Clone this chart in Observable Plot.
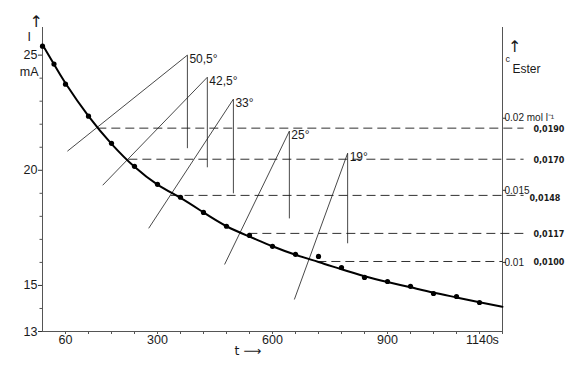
<!DOCTYPE html>
<html><head><meta charset="utf-8">
<script src="https://cdn.jsdelivr.net/npm/d3@7"></script>
<script src="https://cdn.jsdelivr.net/npm/@observablehq/plot@0.6"></script>
<style>
body{margin:0;background:#fff;}
svg{display:block;}
</style></head><body><div id="chart"></div>
<script>
// measured current I (mA) vs time t (s)
const dotT = [0,30,60,120,180,240,300,360,420,480,540,600,660,720,780,840,900,960,1020,1080,1140];
const dotI = [25.39,24.61,23.74,22.35,21.17,20.17,19.39,18.83,18.17,17.57,17.17,16.70,16.35,16.26,15.78,15.35,15.17,14.96,14.65,14.52,14.26];
// fitted curve
const curveT = [0,30,60,120,180,240,300,360,420,480,540,600,660,720,780,840,900,960,1020,1080,1140,1200];
const curveI = [25.45,24.6,23.78,22.35,21.15,20.15,19.38,18.8,18.17,17.57,17.12,16.7,16.33,16.02,15.7,15.4,15.15,14.92,14.69,14.48,14.27,14.07];
// temperature construction lines
const angleLabels = ["50,5°","42,5°","33°","25°","19°"];
const lineStartT = [65,157,277,475,657];
const lineStartI = [20.83,19.35,17.48,15.91,14.39];
const apexT = [378,430,498,644,796];
const apexI = [25.0,24.04,23.09,21.70,20.74];
const dropI = [20.96,20.13,19.0,17.91,16.83];
// dashed read-off lines to the concentration axis
const dashStartT = [143,224,334,537,717];
const dashEndT = [1255,1255,1255,1255,1200];
const dashI = [21.83,20.48,18.91,17.26,16.04];
const dashLabels = ["0,0190","0,0170","0,0148","0,0117","0,0100"];
// axes
const xMinorTicks = [60,120,180,240,300,360,420,480,540,600,660,720,780,840,900,960,1020,1080,1140,1200];
const xTicks = [60,300,600,900,1140];
const xTickLabels = ["60","300","600","900","1140"];
const yMinorTicks = [14,16,17,18,19,21,22,23,24];
const yTicks = [13,15,20,25];
const cTicks = [0.01,0.015,0.02];
const cTickLabels = ["0.01","0.015","0.02 mol l\u207B\u00B9"];
// calibration of the right-hand concentration axis against the current axis
const cCalibC = [0.01,0.02];
const cCalibI = [16.0,22.26];
const cToI = d3.scaleLinear().domain(cCalibC).range(cCalibI);

const dots = dotT.map((t,i)=>({t, I: dotI[i]}));
const curve = curveT.map((t,i)=>({t, I: curveI[i]}));
const cons = angleLabels.map((label,i)=>({label, t0: lineStartT[i], I0: lineStartI[i], ta: apexT[i], Ia: apexI[i], Id: dropI[i]}));
const dashes = dashLabels.map((label,i)=>({label, t0: dashStartT[i], t1: dashEndT[i], I: dashI[i]}));
const cTickData = cTicks.map((c,i)=>({I: cToI(c), label: cTickLabels[i]}));

const font = "'Liberation Sans', Arial, Helvetica, sans-serif";
const ink = "#1a1a1a";
const arrowFont = "'DejaVu Sans', sans-serif";

const chart = Plot.plot({
  width: 568, height: 379,
  marginLeft: 42, marginRight: 66, marginTop: 27, marginBottom: 48,
  x: {domain: [0,1200], axis: null},
  y: {domain: [13,26.2], axis: null},
  style: {fontFamily: font, background: "#fff", color: ink, overflow: "visible"},
  marks: [
    Plot.frame({anchor: "left", stroke: "#555", strokeWidth: 1}),
    Plot.frame({anchor: "right", stroke: "#555", strokeWidth: 1}),
    Plot.frame({anchor: "bottom", stroke: "#555", strokeWidth: 1}),
    // left axis
    Plot.axisY({ticks: yMinorTicks, tickSize: 2.5, tickFormat: () => "", label: null, stroke: "#555"}),
    Plot.axisY({ticks: yTicks, tickSize: 4, tickPadding: 1, fontSize: 12.5, label: null, stroke: "#333", fill: ink}),
    // bottom axis
    Plot.axisX({ticks: xMinorTicks, tickSize: 3, tickFormat: () => "", label: null, stroke: "#555"}),
    Plot.text(xTicks, {x: d => d, text: (d,i) => xTickLabels[i], frameAnchor: "bottom", dy: 12, fontSize: 12.5, fill: ink}),
    Plot.text([1140], {x: d => d, text: () => "s", frameAnchor: "bottom", dy: 12, dx: 13, textAnchor: "start", fontSize: 12.5, fill: ink}),
    // right axis (concentration)
    Plot.axisY({anchor: "right", ticks: cTickData.map(d => d.I), tickSize: 3, tickFormat: () => "", label: null, stroke: "#333"}),
    Plot.text(cTickData, {y: "I", text: "label", frameAnchor: "right", dx: 2, textAnchor: "start", fontSize: 10, fill: ink}),
    // dashed lines
    Plot.link(dashes, {x1: "t0", x2: "t1", y1: "I", y2: "I", stroke: ink, strokeWidth: 0.9, strokeDasharray: "9,5"}),
    Plot.text(dashes.filter(d => d.label !== "0,0148"), {y: "I", text: "label", frameAnchor: "right", dx: 31, dy: 1, textAnchor: "start", fontSize: 8, fontWeight: 600, fontFamily: "'DejaVu Sans', sans-serif", fill: ink}),
    Plot.text(dashes.filter(d => d.label === "0,0148"), {y: "I", text: "label", frameAnchor: "right", dx: 27, dy: 3, textAnchor: "start", fontSize: 8, fontWeight: 600, fontFamily: "'DejaVu Sans', sans-serif", fill: ink}),
    // construction lines
    Plot.link(cons, {x1: "t0", y1: "I0", x2: "ta", y2: "Ia", stroke: ink, strokeWidth: 0.8}),
    Plot.link(cons, {x1: "ta", y1: "Ia", x2: "ta", y2: "Id", stroke: ink, strokeWidth: 0.8}),
    Plot.text(cons, {x: "ta", y: "Ia", text: "label", dx: 2, dy: 4, textAnchor: "start", fontSize: 12, fill: ink}),
    // curve and points
    Plot.line(curve, {x: "t", y: "I", curve: "natural", stroke: "#000", strokeWidth: 2}),
    Plot.dot(dots, {x: "t", y: "I", r: 2.6, fill: "#000"}),
    // axis titles
    Plot.text(["\u2191"], {frameAnchor: "top-left", dx: -13, dy: -12, fontSize: 16, fontFamily: arrowFont, fill: ink}),
    Plot.text(["I"], {frameAnchor: "top-left", dx: -15, dy: 5, fontSize: 12.5, fill: ink}),
    Plot.text(["mA"], {frameAnchor: "top-left", dx: -4, dy: 40, textAnchor: "end", fontSize: 12.5, fill: ink}),
    Plot.text(["\u2191"], {frameAnchor: "top-right", dx: 19, dy: 13, fontSize: 16, fontFamily: arrowFont, fill: ink}),
    Plot.text(["c"], {frameAnchor: "top-right", dx: 3, dy: 28, textAnchor: "start", fontSize: 9, fill: ink}),
    Plot.text(["Ester"], {frameAnchor: "top-right", dx: 10, dy: 37, textAnchor: "start", fontSize: 12, fill: ink}),
    Plot.text(["t \u27F6"], {frameAnchor: "bottom", dx: -38, dy: 23, textAnchor: "start", fontSize: 12.5, fontFamily: arrowFont, fill: ink})
  ]
});
document.getElementById("chart").appendChild(chart);
</script>
</body></html>
